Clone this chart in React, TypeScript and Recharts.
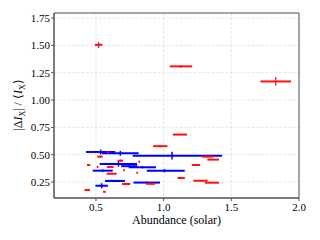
import { ScatterChart, Scatter, XAxis, YAxis, CartesianGrid, ErrorBar, ReferenceArea } from "recharts";

// red series: x, y, x error, y error
const redX = [0.52, 1.128, 1.828, 1.12, 0.975, 1.324, 1.366, 1.238, 1.13, 1.272, 1.357, 0.903, 0.723, 0.53, 0.59, 0.446, 0.512, 0.605, 0.68, 0.82, 0.707, 0.805, 0.616, 0.436, 0.562];
const redY = [1.505, 1.308, 1.17, 0.684, 0.578, 0.482, 0.455, 0.406, 0.287, 0.262, 0.244, 0.234, 0.232, 0.482, 0.522, 0.406, 0.388, 0.388, 0.445, 0.436, 0.357, 0.335, 0.326, 0.177, 0.161];
const redXErr = [0.028, 0.083, 0.113, 0.052, 0.053, 0.043, 0.043, 0.03, 0.027, 0.053, 0.052, 0.033, 0.03, 0.02, 0.008, 0.012, 0.006, 0.025, 0.02, 0.006, 0.006, 0.006, 0.037, 0.02, 0.01];
const redYErr = [0.028, 0.012, 0.04, 0.005, 0.01, 0.005, 0.005, 0.005, 0.005, 0.005, 0.005, 0.005, 0.005, 0.008, 0.005, 0.005, 0.005, 0.005, 0.01, 0.005, 0.005, 0.005, 0.005, 0.005, 0.005];

// blue series
const blueX = [0.535, 0.68, 1.062, 0.666, 0.746, 0.843, 0.55, 1.006, 0.611, 0.665, 0.875, 0.542];
const blueY = [0.525, 0.513, 0.491, 0.415, 0.395, 0.385, 0.354, 0.354, 0.26, 0.26, 0.245, 0.216];
const blueXLo = [0.108, 0.135, 0.29, 0.138, 0.06, 0.1, 0.074, 0.13, 0.044, 0.05, 0.098, 0.046];
const blueXHi = [0.108, 0.135, 0.37, 0.138, 0.06, 0.1, 0.074, 0.15, 0.044, 0.05, 0.098, 0.046];
const blueYErr = [0.022, 0.022, 0.036, 0.025, 0.01, 0.01, 0.012, 0.015, 0.01, 0.01, 0.01, 0.023];

const X_TICKS = [0.5, 1.0, 1.5, 2.0];
const Y_TICKS = [0.25, 0.5, 0.75, 1.0, 1.25, 1.5, 1.75];
const X_DOMAIN = [0.19, 2.0];
const Y_DOMAIN = [0.104, 1.796];

const FONT = "Liberation Serif";
const SPINE = "#555555";

const redData = redX.map((x, i) => ({ x, y: redY[i], ex: redXErr[i], ey: redYErr[i] }));
const blueData = blueX.map((x, i) => ({ x, y: blueY[i], ex: [blueXLo[i], blueXHi[i]], ey: blueYErr[i] }));

const NoDot = () => <g />;

const YLabel = () => (
    <text transform="rotate(-90)" x={-97} y={14} textAnchor="middle" style={{ fontFamily: FONT }} fontSize={12} fill="#000">
        <tspan>|Δ</tspan>
        <tspan fontStyle="italic">I</tspan>
        <tspan fontSize={8} dy={3}>X</tspan>
        <tspan dy={-3}>| / ⟨</tspan>
        <tspan fontStyle="italic">I</tspan>
        <tspan fontSize={8} dy={3}>X</tspan>
        <tspan dy={-3}>⟩</tspan>
    </text>
);

export default function App() {
    return (
        <div style={{ width: 312, height: 232, fontFamily: FONT }}>
            <ScatterChart width={312} height={232} margin={{ top: 5, right: 21, bottom: 0, left: 0 }} style={{ fontFamily: FONT }}>
                <CartesianGrid stroke="#e0e0e0" strokeDasharray="3 1.5" strokeWidth={0.8} />
                <XAxis type="number" dataKey="x" domain={X_DOMAIN} ticks={X_TICKS} allowDataOverflow interval={0}
                    tickFormatter={(v: number) => v.toFixed(1)} height={42} tickSize={3} tickMargin={2}
                    axisLine={{ stroke: SPINE }} tickLine={{ stroke: SPINE }}
                    tick={{ fill: "#000", fontSize: 11, style: { fontFamily: FONT } }}
                    label={{ value: "Abundance (solar)", position: "insideBottom", offset: 16, fill: "#000", fontSize: 12, style: { fontFamily: FONT } }} />
                <YAxis type="number" dataKey="y" domain={Y_DOMAIN} ticks={Y_TICKS} allowDataOverflow interval={0}
                    tickFormatter={(v: number) => v.toFixed(2)} width={46} tickSize={3} tickMargin={1}
                    axisLine={{ stroke: SPINE }} tickLine={{ stroke: SPINE }}
                    tick={{ fill: "#000", fontSize: 11, style: { fontFamily: FONT } }}
                    label={<YLabel />} />
                <ReferenceArea x1={X_DOMAIN[0]} x2={X_DOMAIN[1]} y1={Y_DOMAIN[0]} y2={Y_DOMAIN[1]} fill="none" stroke={SPINE} strokeWidth={1} ifOverflow="visible" />
                <Scatter data={blueData} dataKey="y" fill="#0000ff" shape={NoDot} isAnimationActive={false}>
                    <ErrorBar dataKey="ex" direction="x" width={0} stroke="#0000ff" strokeWidth={2} isAnimationActive={false} />
                    <ErrorBar dataKey="ey" direction="y" width={0} stroke="#0000ff" strokeWidth={1.5} isAnimationActive={false} />
                </Scatter>
                <Scatter data={redData} dataKey="y" fill="#ff0000" shape={NoDot} isAnimationActive={false}>
                    <ErrorBar dataKey="ex" direction="x" width={0} stroke="#ff1010" strokeWidth={2} isAnimationActive={false} />
                    <ErrorBar dataKey="ey" direction="y" width={0} stroke="#ff1010" strokeWidth={1.2} isAnimationActive={false} />
                </Scatter>
            </ScatterChart>
        </div>
    );
}
